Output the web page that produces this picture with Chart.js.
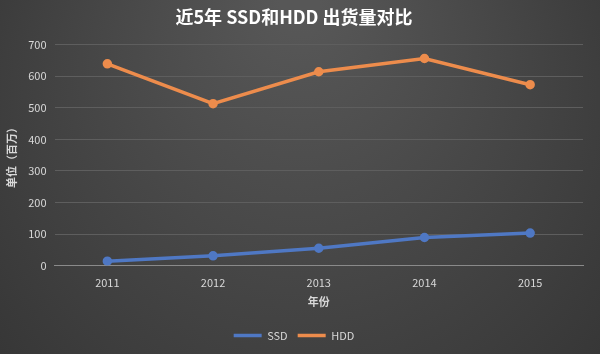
<!DOCTYPE html>
<html>
<head>
<meta charset="utf-8">
<script src="https://cdn.jsdelivr.net/npm/chart.js@4"></script>
<style>
  html, body { margin: 0; padding: 0; background: #383838; }
  #wrap { width: 600px; height: 354px; position: relative; }
</style>
</head>
<body>
<div id="wrap"><canvas id="chart"></canvas></div>
<script>
const years = ['2011', '2012', '2013', '2014', '2015'];
const ssdValues = [14, 31, 55, 89, 103];
const hddValues = [639, 513, 614, 656, 573];

// dark gradient background
const bgPlugin = {
    id: 'bg',
    beforeDraw(chart) {
        const ctx = chart.ctx;
        const w = chart.width, h = chart.height;
        const g = ctx.createRadialGradient(w / 2, 0, 20, w / 2, h * 0.4, w * 0.7);
        g.addColorStop(0, '#575757');
        g.addColorStop(1, '#333333');
        ctx.save();
        ctx.fillStyle = g;
        ctx.fillRect(0, 0, w, h);
        ctx.restore();
    }
};

const font = "'Noto Sans CJK SC', 'Noto Sans', sans-serif";

new Chart(document.getElementById('chart').getContext('2d'), {
    type: 'line',
    data: {
        labels: years,
        datasets: [{
            label: 'SSD',
            data: ssdValues,
            borderColor: '#4f78c4',
            backgroundColor: '#4f78c4',
            borderWidth: 3.5,
            pointRadius: 3,
            pointHoverRadius: 3
        }, {
            label: 'HDD',
            data: hddValues,
            borderColor: '#ed8c4c',
            backgroundColor: '#ed8c4c',
            borderWidth: 3.5,
            pointRadius: 3,
            pointHoverRadius: 3
        }]
    },
    options: {
        animation: false,
        responsive: true,
        maintainAspectRatio: false,
        layout: { padding: { left: 5, right: 17, top: 4, bottom: 3 } },
        plugins: {
            title: {
                display: true,
                text: '近5年 SSD和HDD 出货量对比',
                color: '#ffffff',
                font: { family: font, size: 18, weight: 'bold' },
                padding: { top: 2, bottom: 17 }
            },
            legend: {
                position: 'bottom',
                labels: {
                    color: '#d8d8d8',
                    font: { family: font, size: 11 },
                    usePointStyle: true,
                    pointStyle: 'line',
                    pointStyleWidth: 28,
                    padding: 10
                }
            },
            tooltip: { enabled: false }
        },
        scales: {
            x: {
                offset: true,
                grid: { display: false },
                border: { color: '#8a8a8a', width: 1 },
                ticks: { color: '#d8d8d8', font: { family: font, size: 11 }, padding: 3 },
                title: {
                    display: true,
                    text: '年份',
                    color: '#d8d8d8',
                    font: { family: font, size: 11, weight: 'bold' },
                    padding: { top: 2, bottom: 12 }
                }
            },
            y: {
                min: 0,
                max: 700,
                ticks: { stepSize: 100, color: '#d8d8d8', font: { family: font, size: 11 }, padding: 8 },
                grid: { color: '#5e5e5e', lineWidth: 1, drawTicks: false },
                border: { display: false },
                title: {
                    display: true,
                    text: '单位（百万）',
                    color: '#d8d8d8',
                    font: { family: font, size: 11, weight: 'bold' },
                    padding: { top: 0, bottom: 2 }
                }
            }
        }
    },
    plugins: [bgPlugin]
});
</script>
</body>
</html>
